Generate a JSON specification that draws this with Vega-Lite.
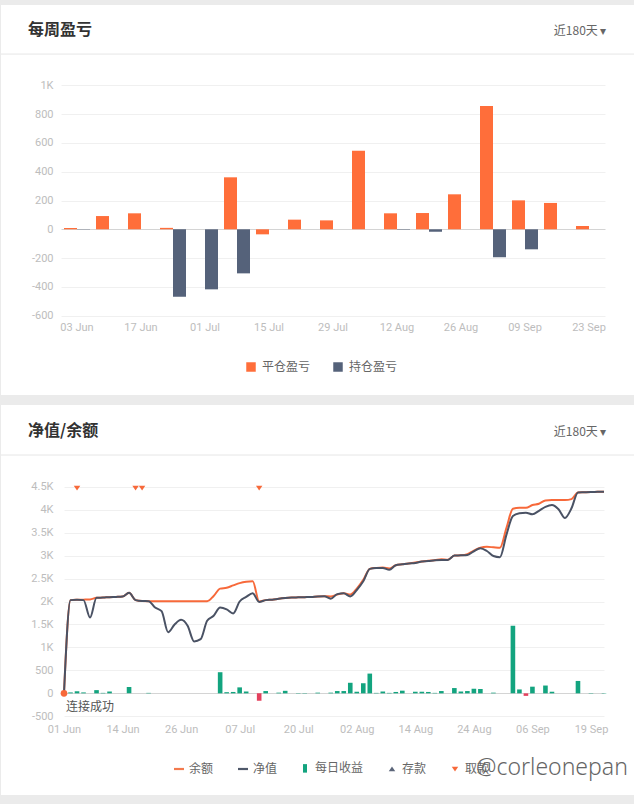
{
  "$schema": "https://vega.github.io/schema/vega-lite/v6.json",
  "background": "#ebebeb",
  "padding": {"top": 5, "bottom": 9, "left": 0, "right": 0},
  "spacing": 10,
  "resolve": {"scale": {"color": "independent", "shape": "independent", "x": "independent", "y": "independent"}, "legend": {"color": "independent", "shape": "independent"}},
  "config": {
    "font": "Noto Sans CJK SC",
    "view": {"stroke": null, "fill": "#ffffff"},
    "axis": {"labelFont": "Roboto"},
    "axisY": {"labelOverlap": false, "labelFlush": false},
    "legend": {"labelFont": "Noto Sans CJK SC"}
  },
  "datasets": {
    "weekly": [
      {"w": "03 Jun", "type": "平仓盈亏", "v": 9},
      {"w": "03 Jun", "type": "持仓盈亏", "v": -2},
      {"w": "10 Jun", "type": "平仓盈亏", "v": 92},
      {"w": "17 Jun", "type": "平仓盈亏", "v": 111},
      {"w": "24 Jun", "type": "平仓盈亏", "v": 10},
      {"w": "24 Jun", "type": "持仓盈亏", "v": -468},
      {"w": "01 Jul", "type": "持仓盈亏", "v": -417},
      {"w": "08 Jul", "type": "平仓盈亏", "v": 361},
      {"w": "08 Jul", "type": "持仓盈亏", "v": -306},
      {"w": "15 Jul", "type": "平仓盈亏", "v": -35},
      {"w": "22 Jul", "type": "平仓盈亏", "v": 67},
      {"w": "29 Jul", "type": "平仓盈亏", "v": 62},
      {"w": "05 Aug", "type": "平仓盈亏", "v": 546},
      {"w": "12 Aug", "type": "平仓盈亏", "v": 111},
      {"w": "12 Aug", "type": "持仓盈亏", "v": -3},
      {"w": "19 Aug", "type": "平仓盈亏", "v": 113},
      {"w": "19 Aug", "type": "持仓盈亏", "v": -17},
      {"w": "26 Aug", "type": "平仓盈亏", "v": 243},
      {"w": "02 Sep", "type": "平仓盈亏", "v": 856},
      {"w": "02 Sep", "type": "持仓盈亏", "v": -194},
      {"w": "09 Sep", "type": "平仓盈亏", "v": 201},
      {"w": "09 Sep", "type": "持仓盈亏", "v": -139},
      {"w": "16 Sep", "type": "平仓盈亏", "v": 183},
      {"w": "23 Sep", "type": "平仓盈亏", "v": 23}
    ],
    "daily": [
      {"d": "01 Jun", "bal": 0, "nav": 0},
      {"d": "02 Jun", "bal": 2030, "nav": 2030, "inc": 20},
      {"d": "03 Jun", "bal": 2037, "nav": 2037, "inc": 45},
      {"d": "04 Jun", "bal": 2040, "nav": 2030, "inc": 20},
      {"d": "06 Jun", "bal": 2045, "nav": 1650},
      {"d": "07 Jun", "bal": 2080, "nav": 2080, "inc": 70},
      {"d": "09 Jun", "bal": 2085, "nav": 2085, "inc": 10},
      {"d": "10 Jun", "bal": 2095, "nav": 2095, "inc": 40},
      {"d": "12 Jun", "bal": 2100, "nav": 2100},
      {"d": "14 Jun", "bal": 2108, "nav": 2108},
      {"d": "15 Jun", "bal": 2190, "nav": 2190, "inc": 140},
      {"d": "16 Jun", "bal": 2030, "nav": 2030},
      {"d": "17 Jun", "bal": 2010, "nav": 2010},
      {"d": "19 Jun", "bal": 2007, "nav": 2007, "inc": 10},
      {"d": "20 Jun", "bal": 2007, "nav": 1870},
      {"d": "21 Jun", "bal": 2007, "nav": 1790},
      {"d": "23 Jun", "bal": 2007, "nav": 1333},
      {"d": "24 Jun", "bal": 2007, "nav": 1500},
      {"d": "26 Jun", "bal": 2007, "nav": 1600},
      {"d": "27 Jun", "bal": 2007, "nav": 1470},
      {"d": "28 Jun", "bal": 2007, "nav": 1130},
      {"d": "29 Jun", "bal": 2007, "nav": 1180},
      {"d": "01 Jul", "bal": 2007, "nav": 1580},
      {"d": "02 Jul", "bal": 2120, "nav": 1690},
      {"d": "03 Jul", "bal": 2280, "nav": 1870, "inc": 460},
      {"d": "04 Jul", "bal": 2300, "nav": 1830, "inc": 25},
      {"d": "05 Jul", "bal": 2350, "nav": 1740, "inc": 30},
      {"d": "07 Jul", "bal": 2400, "nav": 2000, "inc": 130},
      {"d": "08 Jul", "bal": 2430, "nav": 2100, "inc": 40},
      {"d": "09 Jul", "bal": 2440, "nav": 2180},
      {"d": "11 Jul", "bal": 2000, "nav": 1990, "inc": -160},
      {"d": "12 Jul", "bal": 2030, "nav": 2030, "inc": 50},
      {"d": "14 Jul", "bal": 2040, "nav": 2040},
      {"d": "15 Jul", "bal": 2060, "nav": 2060, "inc": 15},
      {"d": "17 Jul", "bal": 2075, "nav": 2075, "inc": 55},
      {"d": "18 Jul", "bal": 2085, "nav": 2085},
      {"d": "20 Jul", "bal": 2090, "nav": 2090, "inc": 8},
      {"d": "21 Jul", "bal": 2095, "nav": 2095, "inc": 8},
      {"d": "22 Jul", "bal": 2100, "nav": 2100},
      {"d": "24 Jul", "bal": 2110, "nav": 2110, "inc": 15},
      {"d": "25 Jul", "bal": 2115, "nav": 2115},
      {"d": "27 Jul", "bal": 2110, "nav": 2060, "inc": 15},
      {"d": "28 Jul", "bal": 2150, "nav": 2160, "inc": 50},
      {"d": "30 Jul", "bal": 2180, "nav": 2180, "inc": 50},
      {"d": "31 Jul", "bal": 2150, "nav": 2110, "inc": 230},
      {"d": "02 Aug", "bal": 2280, "nav": 2250, "inc": 35},
      {"d": "03 Aug", "bal": 2470, "nav": 2440, "inc": 220},
      {"d": "04 Aug", "bal": 2710, "nav": 2710, "inc": 430},
      {"d": "06 Aug", "bal": 2730, "nav": 2730, "inc": 10},
      {"d": "07 Aug", "bal": 2740, "nav": 2730, "inc": 40},
      {"d": "08 Aug", "bal": 2720, "nav": 2690, "inc": 10},
      {"d": "10 Aug", "bal": 2790, "nav": 2790, "inc": 30},
      {"d": "11 Aug", "bal": 2810, "nav": 2810, "inc": 58},
      {"d": "12 Aug", "bal": 2830, "nav": 2830},
      {"d": "14 Aug", "bal": 2850, "nav": 2840, "inc": 35},
      {"d": "15 Aug", "bal": 2870, "nav": 2870, "inc": 35},
      {"d": "16 Aug", "bal": 2890, "nav": 2880, "inc": 30},
      {"d": "17 Aug", "bal": 2900, "nav": 2900, "inc": 10},
      {"d": "18 Aug", "bal": 2920, "nav": 2906, "inc": 50},
      {"d": "19 Aug", "bal": 2910, "nav": 2906},
      {"d": "20 Aug", "bal": 3000, "nav": 3000, "inc": 115},
      {"d": "21 Aug", "bal": 3005, "nav": 3005, "inc": 40},
      {"d": "22 Aug", "bal": 3030, "nav": 3014, "inc": 50},
      {"d": "24 Aug", "bal": 3110, "nav": 3094, "inc": 100},
      {"d": "25 Aug", "bal": 3170, "nav": 3160, "inc": 95},
      {"d": "26 Aug", "bal": 3190, "nav": 3100},
      {"d": "28 Aug", "bal": 3180, "nav": 2990, "inc": 15},
      {"d": "29 Aug", "bal": 3170, "nav": 2965},
      {"d": "31 Aug", "bal": 3600, "nav": 3450},
      {"d": "01 Sep", "bal": 4020, "nav": 3860, "inc": 1470},
      {"d": "03 Sep", "bal": 4040, "nav": 3920, "inc": 85},
      {"d": "04 Sep", "bal": 4040, "nav": 3935, "inc": -55},
      {"d": "06 Sep", "bal": 4100, "nav": 3900, "inc": 145},
      {"d": "07 Sep", "bal": 4130, "nav": 3975},
      {"d": "08 Sep", "bal": 4200, "nav": 4060, "inc": 170},
      {"d": "10 Sep", "bal": 4210, "nav": 4100, "inc": 35},
      {"d": "11 Sep", "bal": 4210, "nav": 4010},
      {"d": "13 Sep", "bal": 4210, "nav": 3820},
      {"d": "14 Sep", "bal": 4230, "nav": 4030},
      {"d": "16 Sep", "bal": 4376, "nav": 4376, "inc": 270},
      {"d": "17 Sep", "bal": 4380, "nav": 4380},
      {"d": "19 Sep", "bal": 4385, "nav": 4385, "inc": 8},
      {"d": "20 Sep", "bal": 4388, "nav": 4388},
      {"d": "21 Sep", "bal": 4391, "nav": 4391, "inc": 8}
    ],
    "wd": [
      {"d": "03 Jun", "v": 4470, "series": "取款"},
      {"d": "16 Jun", "v": 4470, "series": "取款"},
      {"d": "17 Jun", "v": 4470, "series": "取款"},
      {"d": "11 Jul", "v": 4470, "series": "取款"}
    ],
    "toast": [{"d": "01 Jun", "v": -297, "t": "连接成功"}],
    "wm": [{"d": "10 Sep", "v": -1626, "t": "@corleonepan"}]
  },
  "vconcat": [
    {
      "width": 634,
      "height": 390,
      "title": {"text": "每周盈亏", "anchor": "start", "frame": "group", "offset": -33, "dx": 27, "fontSize": 16, "fontWeight": "bold", "color": "#333333", "font": "Noto Sans CJK SC"},
      "layer": [
        {
          "data": {"values": [{}]},
          "mark": {"type": "rule", "color": "#e6e6e6", "strokeWidth": 1},
          "encoding": {
            "y": {"datum": 1217, "type": "quantitative", "scale": {"domain": [-600, 1000], "range": [310.7, 80.3]}}
          }
        },
        {
          "data": {"name": "weekly"},
          "mark": {"type": "bar", "opacity": 1},
          "encoding": {
            "x": {
              "field": "w", "type": "ordinal",
              "scale": {"type": "band", "domain": ["03 Jun", "10 Jun", "17 Jun", "24 Jun", "01 Jul", "08 Jul", "15 Jul", "22 Jul", "29 Jul", "05 Aug", "12 Aug", "19 Aug", "26 Aug", "02 Sep", "09 Sep", "16 Sep", "23 Sep"], "range": [60, 604], "paddingInner": 0.1875, "paddingOuter": 0.09375},
              "axis": {"values": ["03 Jun", "17 Jun", "01 Jul", "15 Jul", "29 Jul", "12 Aug", "26 Aug", "09 Sep", "23 Sep"], "offset": -79.3, "domain": false, "ticks": false, "labelPadding": 6, "labelColor": "#bdbdbd", "labelFontSize": 11, "labelAngle": 0, "title": null, "grid": false}
            },
            "xOffset": {"field": "type", "scale": {"domain": ["平仓盈亏", "持仓盈亏"], "paddingInner": 0, "paddingOuter": 0}},
            "y": {
              "field": "v", "type": "quantitative", "stack": null,
              "scale": {"domain": [-600, 1000], "range": [310.7, 80.3]},
              "axis": {
                "values": [-600, -400, -200, 0, 200, 400, 600, 800, 1000], "tickCount": 20,
                "labelExpr": "datum.value >= 1000 ? (datum.value/1000) + 'K' : '' + datum.value",
                "orient": "left", "offset": -56, "domain": false, "ticks": false, "labelPadding": 4,
                "labelColor": "#bdbdbd", "labelFontSize": 11, "labelOverlap": false, "labelFlush": false,
                "grid": true,
                "gridColor": {"condition": {"test": "datum.value === 0", "value": "#d4d4d4"}, "value": "#f0f0f0"},
                "title": "近180天 ▾", "titleAngle": 0, "titleAlign": "right", "titleBaseline": "middle",
                "titleX": 549, "titleY": 25, "titleFontSize": 12, "titleFontWeight": "normal", "titleColor": "#666666", "titleFont": "Noto Sans CJK SC"
              }
            },
            "color": {
              "field": "type", "type": "nominal",
              "scale": {"domain": ["平仓盈亏", "持仓盈亏"], "range": ["#ff6e3a", "#55627a"]},
              "legend": {"orient": "none", "legendX": 244, "legendY": 356, "direction": "horizontal", "title": null, "symbolType": "square", "symbolSize": 90, "labelFontSize": 12, "labelColor": "#666666", "columnPadding": 21, "labelOffset": 5}
            }
          }
        }
      ]
    },
    {
      "width": 634,
      "height": 390,
      "title": {"text": "净值/余额", "anchor": "start", "frame": "group", "offset": -34, "dx": 27, "fontSize": 16, "fontWeight": "bold", "color": "#333333", "font": "Noto Sans CJK SC"},
      "layer": [
        {
          "data": {"values": [{}]},
          "mark": {"type": "rule", "color": "#e6e6e6", "strokeWidth": 1},
          "encoding": {
            "y": {"datum": 5190, "type": "quantitative", "scale": {"domain": [-500, 4500], "range": [311.3, 81.7]}}
          }
        },
        {
          "data": {"name": "daily"},
          "encoding": {
            "x": {
              "field": "d", "type": "ordinal",
              "scale": {"type": "point", "padding": 0, "range": [63, 603], "domain": ["01 Jun","02 Jun","03 Jun","04 Jun","06 Jun","07 Jun","09 Jun","10 Jun","12 Jun","14 Jun","15 Jun","16 Jun","17 Jun","19 Jun","20 Jun","21 Jun","23 Jun","24 Jun","26 Jun","27 Jun","28 Jun","29 Jun","01 Jul","02 Jul","03 Jul","04 Jul","05 Jul","07 Jul","08 Jul","09 Jul","11 Jul","12 Jul","14 Jul","15 Jul","17 Jul","18 Jul","20 Jul","21 Jul","22 Jul","24 Jul","25 Jul","27 Jul","28 Jul","30 Jul","31 Jul","02 Aug","03 Aug","04 Aug","06 Aug","07 Aug","08 Aug","10 Aug","11 Aug","12 Aug","14 Aug","15 Aug","16 Aug","17 Aug","18 Aug","19 Aug","20 Aug","21 Aug","22 Aug","24 Aug","25 Aug","26 Aug","28 Aug","29 Aug","31 Aug","01 Sep","03 Sep","04 Sep","06 Sep","07 Sep","08 Sep","10 Sep","11 Sep","13 Sep","14 Sep","16 Sep","17 Sep","19 Sep","20 Sep","21 Sep"]},
              "axis": {"values": ["01 Jun", "14 Jun", "26 Jun", "07 Jul", "20 Jul", "02 Aug", "14 Aug", "24 Aug", "06 Sep", "19 Sep"], "offset": -78.7, "domain": false, "ticks": false, "labelPadding": 7, "labelColor": "#bdbdbd", "labelFontSize": 11, "labelAngle": 0, "title": null, "grid": false}
            }
          },
          "layer": [
            {
              "mark": {"type": "bar", "width": 4.6, "opacity": 1},
              "encoding": {
                "y": {
                  "field": "inc", "type": "quantitative",
                  "scale": {"domain": [-500, 4500], "range": [311.3, 81.7]},
                  "axis": {
                    "values": [-500, 0, 500, 1000, 1500, 2000, 2500, 3000, 3500, 4000, 4500], "tickCount": 20,
                    "labelExpr": "abs(datum.value) >= 1000 ? (datum.value/1000) + 'K' : '' + datum.value",
                    "orient": "left", "offset": -56, "domain": false, "ticks": false, "labelPadding": 4,
                    "labelColor": "#bdbdbd", "labelFontSize": 11, "labelOverlap": false, "labelFlush": false,
                    "grid": true,
                    "gridColor": {"condition": {"test": "datum.value === 0", "value": "#d4d4d4"}, "value": "#f0f0f0"},
                    "title": "近180天 ▾", "titleAngle": 0, "titleAlign": "right", "titleBaseline": "middle",
                    "titleX": 549, "titleY": 26, "titleFontSize": 12, "titleFontWeight": "normal", "titleColor": "#666666", "titleFont": "Noto Sans CJK SC"
                  }
                },
                "color": {"condition": {"test": "datum.inc < 0", "value": "#e4405d"}, "value": "#13a47f"}
              }
            },
            {
              "mark": {"type": "line", "interpolate": "monotone", "color": "#f7693a", "strokeWidth": 2},
              "encoding": {"y": {"field": "bal", "type": "quantitative", "scale": {"domain": [-500, 4500], "range": [311.3, 81.7]}}}
            },
            {
              "mark": {"type": "line", "interpolate": "monotone", "color": "#4a5264", "strokeWidth": 2},
              "encoding": {"y": {"field": "nav", "type": "quantitative", "scale": {"domain": [-500, 4500], "range": [311.3, 81.7]}}}
            },
            {
              "transform": [{"filter": "datum.d === '01 Jun'"}],
              "mark": {"type": "point", "filled": true, "size": 45, "color": "#f7693a", "opacity": 1},
              "encoding": {"y": {"field": "bal", "type": "quantitative", "scale": {"domain": [-500, 4500], "range": [311.3, 81.7]}}}
            },
            {
              "data": {"name": "wd"},
              "mark": {"type": "point", "filled": true, "size": 100, "opacity": 1},
              "encoding": {
                "y": {"field": "v", "type": "quantitative", "scale": {"domain": [-500, 4500], "range": [311.3, 81.7]}},
                "color": {
                  "field": "series", "type": "nominal",
                  "scale": {"domain": ["余额", "净值", "每日收益", "存款", "取款"], "range": ["#f37a4e", "#4f586a", "#13a47f", "#5b6579", "#f7693a"]},
                  "legend": {"orient": "none", "legendX": 172, "legendY": 357, "direction": "horizontal", "title": null, "symbolSize": 100, "labelFontSize": 12, "labelColor": "#666666", "columnPadding": 21, "labelOffset": 4, "symbolOpacity": 1}
                },
                "shape": {
                  "field": "series", "type": "nominal",
                  "scale": {"domain": ["余额", "净值", "每日收益", "存款", "取款"], "range": ["M-1,-0.22L1,-0.22L1,0.22L-1,0.22Z", "M-1,-0.22L1,-0.22L1,0.22L-1,0.22Z", "M-0.4,-0.85L0.4,-0.85L0.4,0.85L-0.4,0.85Z", "M0,-0.5L0.65,0.45L-0.65,0.45Z", "M0,0.5L0.65,-0.45L-0.65,-0.45Z"]},
                  "legend": {"orient": "none", "legendX": 172, "legendY": 357, "direction": "horizontal", "title": null, "symbolSize": 100, "labelFontSize": 12, "labelColor": "#666666", "columnPadding": 21, "labelOffset": 4, "symbolOpacity": 1}
                }
              }
            },
            {
              "data": {"name": "toast"},
              "mark": {"type": "text", "align": "left", "dx": 2, "fontSize": 12, "color": "#555555"},
              "encoding": {
                "y": {"field": "v", "type": "quantitative", "scale": {"domain": [-500, 4500], "range": [311.3, 81.7]}},
                "text": {"field": "t"}
              }
            },
            {
              "data": {"name": "wm"},
              "mark": {"type": "text", "align": "center", "fontSize": 23, "color": "#666666", "fontWeight": 300, "font": "Noto Sans"},
              "encoding": {
                "y": {"field": "v", "type": "quantitative", "scale": {"domain": [-500, 4500], "range": [311.3, 81.7]}},
                "text": {"field": "t"}
              }
            }
          ]
        }
      ]
    }
  ]
}
